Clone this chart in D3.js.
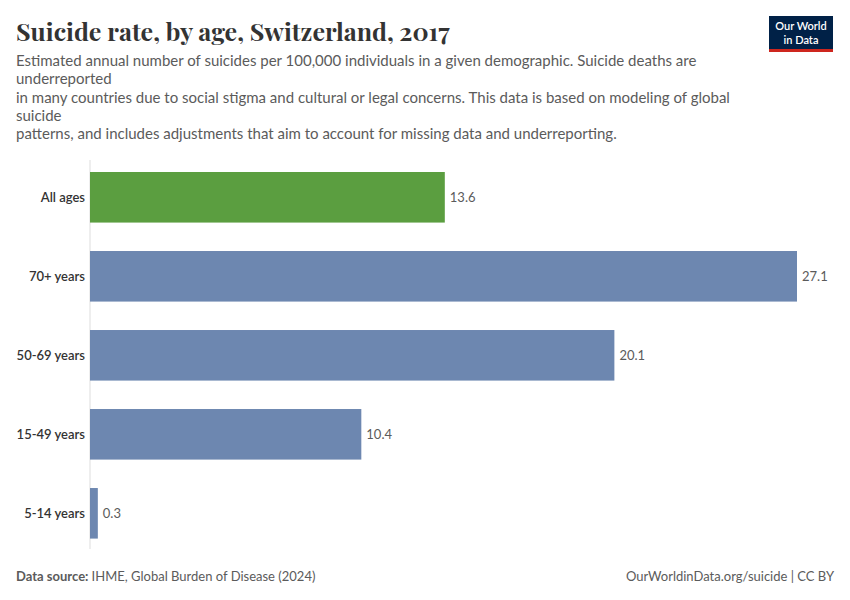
<!DOCTYPE html>
<html>
<head>
<meta charset="utf-8">
<script src="https://cdn.jsdelivr.net/npm/d3@7"></script>
<style>
  body { margin: 0; background: #fff; }
  svg text { font-family: Lato, "Noto Sans", sans-serif; }
</style>
</head>
<body>
<div id="chart"></div>
<script>
// data
var categories = ['All ages', '70+ years', '50-69 years', '15-49 years', '5-14 years'];
var values = [13.6, 27.1, 20.1, 10.4, 0.3];
var barColors = ['#5b9e40', '#6d87b0', '#6d87b0', '#6d87b0', '#6d87b0'];

var width = 850, height = 600;
var svg = d3.select('#chart').append('svg')
    .attr('width', width)
    .attr('height', height);

// title + subtitle
svg.append('text')
    .attr('x', 16).attr('y', 41)
    .style('font-family', '"Playfair Display", "Liberation Serif", "DejaVu Serif", serif')
    .style('font-size', '25px')
    .style('font-weight', 700)
    .style('fill', '#333')
    .text('Suicide rate, by age, Switzerland, 2017');

var subLines = [
  'Estimated annual number of suicides per 100,000 individuals in a given demographic. Suicide deaths are',
  'underreported',
  'in many countries due to social stigma and cultural or legal concerns. This data is based on modeling of global',
  'suicide',
  'patterns, and includes adjustments that aim to account for missing data and underreporting.'
];
svg.append('g').selectAll('text')
    .data(subLines)
    .join('text')
    .attr('x', 16)
    .attr('y', function(d, i) { return 66 + i * 18.3; })
    .style('font-size', '15px')
    .style('fill', '#5b5b5b')
    .text(function(d) { return d; });

// logo
var logo = svg.append('g');
logo.append('rect').attr('x', 769).attr('y', 16).attr('width', 64).attr('height', 36).attr('fill', '#002147');
logo.append('rect').attr('x', 769).attr('y', 49).attr('width', 64).attr('height', 3).attr('fill', '#ce261e');
logo.append('text').attr('x', 801).attr('y', 30).attr('text-anchor', 'middle')
    .style('font-size', '11px').style('fill', '#fff').style('font-weight', 600).text('Our World');
logo.append('text').attr('x', 801).attr('y', 43.5).attr('text-anchor', 'middle')
    .style('font-size', '11px').style('fill', '#fff').style('font-weight', 600).text('in Data');

// scales
var x0 = 90;
var x = d3.scaleLinear().domain([0, 27.1]).range([x0, 797]);
var y = d3.scaleBand().domain(categories).range([160, 550.6]).paddingInner(0.36).paddingOuter(0.152);

var rows = categories.map(function(c, i) { return { cat: c, val: values[i], color: barColors[i] }; });

svg.append('line')
    .attr('x1', x0).attr('x2', x0)
    .attr('y1', 160).attr('y2', 549)
    .attr('stroke', '#ddd').attr('stroke-width', 1);

svg.append('g').selectAll('rect')
    .data(rows)
    .join('rect')
    .attr('x', x(0))
    .attr('y', function(d) { return y(d.cat); })
    .attr('width', function(d) { return x(d.val) - x(0); })
    .attr('height', y.bandwidth())
    .attr('fill', function(d) { return d.color; });

// category labels
svg.append('g').selectAll('text')
    .data(rows)
    .join('text')
    .attr('x', x0 - 5)
    .attr('y', function(d) { return y(d.cat) + y.bandwidth() / 2; })
    .attr('dy', '0.35em')
    .attr('text-anchor', 'end')
    .style('font-size', '13px')
    .style('font-weight', 600)
    .style('fill', '#333')
    .text(function(d) { return d.cat; });

// value labels
svg.append('g').selectAll('text')
    .data(rows)
    .join('text')
    .attr('x', function(d) { return x(d.val) + 5; })
    .attr('y', function(d) { return y(d.cat) + y.bandwidth() / 2; })
    .attr('dy', '0.35em')
    .style('font-size', '13px')
    .style('fill', '#5b5b5b')
    .text(function(d) { return d.val.toFixed(1); });

// footer
var foot = svg.append('text').attr('x', 16).attr('y', 581).style('font-size', '13px').style('fill', '#5b5b5b');
foot.append('tspan').style('font-weight', 700).text('Data source: ');
foot.append('tspan').text('IHME, Global Burden of Disease (2024)');
svg.append('text').attr('x', 834).attr('y', 581).attr('text-anchor', 'end')
    .style('font-size', '13px').style('fill', '#5b5b5b')
    .text('OurWorldinData.org/suicide | CC BY');
</script>
</body>
</html>
